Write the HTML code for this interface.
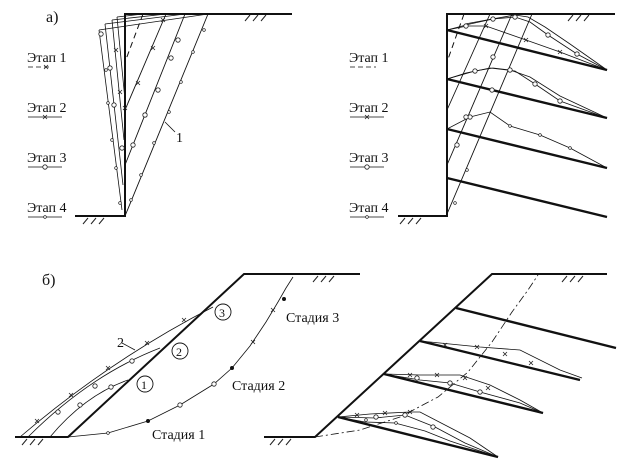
<!DOCTYPE html>
<html><head><meta charset="utf-8"><style>
html,body{margin:0;padding:0;background:#fff;}
svg{display:block;}
text{font-family:"Liberation Serif",serif;fill:#111;}
</style></head><body>
<svg width="622" height="465" viewBox="0 0 622 465" xmlns="http://www.w3.org/2000/svg">
<defs>
<g id="o"><circle r="2.2" fill="#fff" stroke="#222" stroke-width="0.8"/></g>
<g id="x"><path d="M-2,-2L2,2M2,-2L-2,2" stroke="#222" stroke-width="0.8"/></g>
<g id="d"><circle r="1.4" fill="#fff" stroke="#222" stroke-width="0.7"/></g>
<g id="h"><path d="M0,6L5,0M8,6L13,0M16,6L21,0" stroke="#222" stroke-width="1"/></g>
</defs>
<g fill="none" stroke="#111">
<!-- Panel a left -->
<path d="M75,216H125V14H292" stroke-width="2"/>
<use href="#h" x="245" y="15"/><use href="#h" x="83" y="218"/>
<path d="M143,14L125,62" stroke-width="1" stroke-dasharray="6,4"/>
<path d="M166,14L125,110" stroke-width="0.9"/>
<path d="M185,14L125,165" stroke-width="0.9"/>
<path d="M208,14L125,216" stroke-width="0.9"/>
<path d="M99,30L122,210M99,30L208,14" stroke-width="0.8"/>
<path d="M105,24L123,185M105,24L185,14" stroke-width="0.8"/>
<path d="M112,20L124,140M112,20L166,14" stroke-width="0.8"/>
<path d="M117,17L125,100M117,17L143,14" stroke-width="0.8"/>
<path d="M165,122L175,132" stroke-width="0.8"/>
<!-- Panel a right -->
<path d="M398,216H447V14H615" stroke-width="2"/>
<use href="#h" x="568" y="15"/><use href="#h" x="400" y="218"/>
<path d="M447,30L607,70M447,79L607,118M447,129L607,168M447,178L607,217" stroke-width="2.4"/>
<path d="M464,14L447,62" stroke-width="1" stroke-dasharray="6,4"/>
<path d="M490,14L447,110" stroke-width="0.9"/>
<path d="M512,14L447,165" stroke-width="0.9"/>
<path d="M532,14L447,214" stroke-width="0.9"/>
<path d="M447,30L467,26L486,26L526,40L560,52L607,70" stroke-width="0.8"/>
<path d="M447,30L470,24L493,19L515,17L530,22L548,35L577,54L607,70" stroke-width="0.8"/>
<path d="M465,24L492,19L515,15L528,17L545,27L570,44L607,70" stroke-width="0.8"/>
<path d="M447,79L466,73L490,68L515,71L535,84L560,101L607,118" stroke-width="0.8"/>
<path d="M447,79L475,71L493,68L510,70L530,77L560,96L607,118" stroke-width="0.8"/>
<path d="M447,129L470,117L490,112L510,126L540,135L570,148L607,168" stroke-width="0.8"/>
<!-- Panel б left -->
<path d="M15,437H68L244,274H360" stroke-width="2"/>
<use href="#h" x="313" y="276"/><use href="#h" x="22" y="439"/>
<path d="M68,437L108,433L148,421L180,405L214,384L232,368L250,346L266,322L278,302L286,288L293,277" stroke-width="0.8"/>
<path d="M20,437Q110,360 213,307" stroke-width="0.8"/>
<path d="M28,437Q90,375 160,348" stroke-width="0.8"/>
<path d="M50,437Q85,395 128,380" stroke-width="0.8"/>
<path d="M122,343L135,350" stroke-width="0.8"/>
<circle cx="145" cy="384" r="8" stroke-width="0.9"/>
<circle cx="180" cy="351" r="8" stroke-width="0.9"/>
<circle cx="223" cy="312" r="8" stroke-width="0.9"/>
<!-- Panel б right -->
<path d="M264,437H315L492,274H607" stroke-width="2"/>
<use href="#h" x="562" y="276"/><use href="#h" x="270" y="439"/>
<path d="M456,308L616,348M420,341L580,380M384,374L543,413M338,417L498,457" stroke-width="2.4"/>
<path d="M315,437L360,430L400,417L438,397L468,372L492,342L512,312L528,290L538,275" stroke-width="0.8" stroke-dasharray="8,3,2,3"/>
<path d="M420,341L480,347L520,350L560,370L582,378" stroke-width="0.8"/>
<path d="M384,374L420,375L460,375L490,385L520,400L543,413" stroke-width="0.8"/>
<path d="M384,374L420,380L450,383L480,392L520,403L543,413" stroke-width="0.8"/>
<path d="M338,417L370,414L410,412L420,412L445,425L470,438L498,457" stroke-width="0.8"/>
<path d="M338,417L375,418L405,415L435,427L465,443L498,457" stroke-width="0.8"/>
<path d="M338,417L365,422L395,423L425,431L450,441L498,457" stroke-width="0.8"/>
<!-- legend sample lines -->
<path d="M28,67H52" stroke-width="0.8" stroke-dasharray="5,3"/>
<path d="M28,117H62M28,167H62M28,217H62" stroke-width="0.8"/>
<path d="M350,67H376" stroke-width="0.8" stroke-dasharray="5,3"/>
<path d="M350,117H384M350,167H384M350,217H384" stroke-width="0.8"/>
</g>
<!-- markers -->
<use href="#x" x="145" y="115"/><use href="#x" x="138" y="83"/><use href="#x" x="153" y="48"/><use href="#x" x="163" y="20"/>
<use href="#o" x="178" y="40"/><use href="#o" x="171" y="58"/><use href="#o" x="158" y="90"/><use href="#o" x="145" y="115"/><use href="#o" x="133" y="145"/>
<use href="#d" x="204" y="30"/><use href="#d" x="193" y="52"/><use href="#d" x="181" y="82"/><use href="#d" x="169" y="112"/><use href="#d" x="154" y="143"/><use href="#d" x="141" y="175"/><use href="#d" x="131" y="200"/>
<use href="#o" x="110" y="68"/><use href="#o" x="114" y="105"/><use href="#o" x="122" y="148"/><use href="#o" x="101" y="34"/>
<use href="#x" x="116" y="50"/><use href="#x" x="120" y="92"/><use href="#x" x="125" y="108"/>
<use href="#d" x="106" y="70"/><use href="#d" x="108" y="103"/><use href="#d" x="112" y="140"/><use href="#d" x="116" y="168"/><use href="#d" x="120" y="203"/>
<use href="#o" x="466" y="26"/><use href="#o" x="493" y="19"/><use href="#o" x="515" y="17"/><use href="#o" x="548" y="35"/><use href="#o" x="577" y="54"/>
<use href="#x" x="486" y="26"/><use href="#x" x="526" y="40"/><use href="#x" x="560" y="52"/>
<use href="#o" x="475" y="71"/><use href="#o" x="510" y="70"/><use href="#o" x="535" y="84"/><use href="#o" x="560" y="101"/>
<use href="#o" x="470" y="117"/><use href="#d" x="510" y="126"/><use href="#d" x="540" y="135"/><use href="#d" x="570" y="148"/>
<use href="#o" x="457" y="145"/><use href="#o" x="466" y="117"/><use href="#o" x="492" y="90"/><use href="#o" x="493" y="57"/><use href="#d" x="467" y="170"/><use href="#d" x="455" y="203"/>
<use href="#d" x="108" y="433"/><use href="#o" x="180" y="405"/><use href="#o" x="214" y="384"/><use href="#x" x="253" y="342"/><use href="#x" x="273" y="310"/><circle cx="148" cy="421" r="2" fill="#111"/><circle cx="232" cy="368" r="2" fill="#111"/><circle cx="284" cy="299" r="2" fill="#111"/>
<use href="#x" x="37" y="421"/><use href="#x" x="71" y="395"/><use href="#x" x="108" y="368"/><use href="#x" x="147" y="343"/><use href="#x" x="184" y="320"/>
<use href="#o" x="58" y="412"/><use href="#o" x="95" y="386"/><use href="#o" x="132" y="361"/>
<use href="#o" x="80" y="405"/><use href="#o" x="111" y="387"/>
<use href="#x" x="445" y="345"/><use href="#x" x="477" y="347"/><use href="#x" x="505" y="354"/><use href="#x" x="531" y="363"/>
<use href="#x" x="410" y="375"/><use href="#x" x="437" y="375"/><use href="#x" x="465" y="378"/><use href="#x" x="488" y="388"/><use href="#o" x="417" y="378"/><use href="#o" x="450" y="383"/><use href="#o" x="480" y="392"/>
<use href="#x" x="357" y="415"/><use href="#x" x="385" y="413"/><use href="#x" x="410" y="412"/><use href="#o" x="376" y="417"/><use href="#o" x="405" y="415"/><use href="#o" x="433" y="427"/><use href="#d" x="366" y="420"/><use href="#d" x="396" y="423"/>
<use href="#x" x="46" y="67"/><use href="#x" x="45" y="117"/><use href="#o" x="45" y="167"/><use href="#d" x="45" y="217"/>
<use href="#x" x="367" y="117"/><use href="#o" x="367" y="167"/><use href="#d" x="367" y="217"/>
<!-- text -->
<text x="46" y="22" font-size="16">а)</text>
<text x="42" y="285" font-size="16">б)</text>
<g font-size="14">
<text x="27" y="62">Этап 1</text><text x="27" y="112">Этап 2</text><text x="27" y="162">Этап 3</text><text x="27" y="212">Этап 4</text>
<text x="349" y="62">Этап 1</text><text x="349" y="112">Этап 2</text><text x="349" y="162">Этап 3</text><text x="349" y="212">Этап 4</text>
<text x="176" y="142">1</text><text x="117" y="347">2</text>
<text x="152" y="439">Стадия 1</text><text x="232" y="390">Стадия 2</text><text x="286" y="322">Стадия 3</text>
<text x="141" y="389" font-size="12">1</text><text x="176" y="356" font-size="12">2</text><text x="219" y="317" font-size="12">3</text>
</g>
</svg>
</body></html>
